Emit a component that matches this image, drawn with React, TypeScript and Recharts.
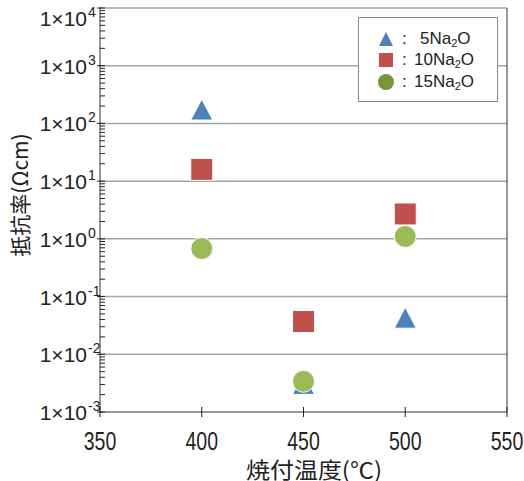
import React from 'react';
import { ScatterChart, Scatter, XAxis, YAxis, ReferenceLine } from 'recharts';

// firing temperature (°C) and resistivity (Ω·cm) per Na2O content
const temps = [400, 450, 500];
const na5 = [170, 0.003, 0.042];
const na10 = [16, 0.037, 2.7];
const na15 = [0.68, 0.0034, 1.1];

const xTicks = [350, 400, 450, 500, 550];
const decades = [-3, -2, -1, 0, 1, 2, 3, 4];

const FONT = '"Liberation Sans", Arial, sans-serif';
const CJK = '"Noto Sans CJK JP", "Noto Sans CJK SC", sans-serif';

const BLUE = '#4f81bd';
const RED = '#c0504d';
const GREEN = '#9bbb59';

const X_DOMAIN = [350, 550];
const Y_DOMAIN = [0.001, 10000];

const toPoints = (vals: number[]) => temps.map((t, i) => ({ x: t, y: vals[i] }));

const majorTicks = decades.map((d) => Math.pow(10, d));
// decades plus the 2..9 minor ticks between them
const allYTicks: number[] = [];
decades.forEach((d, i) => {
    allYTicks.push(Math.pow(10, d));
    if (i < decades.length - 1) {
        for (let m = 2; m <= 9; m++) allYTicks.push(m * Math.pow(10, d));
    }
});

const isDecade = (v: number) => {
    const e = Math.log10(v);
    return Math.abs(e - Math.round(e)) < 1e-6;
};

const Triangle = (props: any) => {
    const { cx, cy } = props;
    const s = 11;
    return <path d={`M${cx},${cy - s} L${cx + s},${cy + s * 0.9} L${cx - s},${cy + s * 0.9} Z`} fill={BLUE} stroke="#fff" strokeWidth={1} />;
};
const Square = (props: any) => {
    const { cx, cy } = props;
    const s = 11;
    return <rect x={cx - s} y={cy - s} width={s * 2} height={s * 2} fill={RED} stroke="#fff" strokeWidth={1} />;
};
const Circle = (props: any) => {
    const { cx, cy } = props;
    return <circle cx={cx} cy={cy} r={11} fill={GREEN} stroke="#fff" strokeWidth={1} />;
};

// tick lines point inward (negative tickSize), so x here sits 5px right of the axis
const renderYTick = (props: any) => {
    const { x, payload } = props;
    if (!isDecade(payload.value)) return <g />;
    const exp = Math.round(Math.log10(payload.value));
    const ax = x - 5;
    // keep the top label inside the frame
    const y = Math.max(props.y, 18);
    return (
        <g>
            <line x1={ax - 3} x2={ax + 1} y1={props.y} y2={props.y} stroke="#222" />
            <text x={ax - 13} y={y + 8} textAnchor="end" fontFamily={FONT} fontSize={21} fill="#222">
                1×10
            </text>
            <text x={ax - 12} y={y - 1} textAnchor="start" fontFamily={FONT} fontSize={14} fill="#222">
                {exp}
            </text>
        </g>
    );
};

const renderXTick = (props: any) => {
    const { x, y, payload } = props;
    return (
        <g>
            <line x1={x} x2={x} y1={y - 10} y2={y - 5} stroke="#222" />
            <text transform={`translate(${x},${y + 33}) scale(0.78,1)`} textAnchor="middle" fontFamily={FONT} fontSize={25} fill="#222">
                {payload.value}
            </text>
        </g>
    );
};

const legendItems = [
    { label: '5', marker: <polygon points="1,15 8,1 15,15" fill={BLUE} /> },
    { label: '10', marker: <rect x={1} y={1} width={14} height={14} fill={RED} /> },
    { label: '15', marker: <circle cx={8} cy={8} r={8} fill="#77933c" /> },
];

const LegendBox = () => (
    <div
        style={{
            position: 'absolute',
            left: 358,
            top: 17,
            width: 140,
            height: 85,
            border: '1px solid #888',
            background: '#fff',
            boxSizing: 'border-box',
            padding: '10px 0 0 19px',
            fontFamily: FONT,
            fontSize: 17,
            color: '#222',
        }}
    >
        {legendItems.map((it) => (
            <div key={it.label} style={{ display: 'flex', alignItems: 'center', height: 21.5 }}>
                <svg width={16} height={16} style={{ marginRight: 8 }}>{it.marker}</svg>
                <span style={{ width: 12 }}>:</span>
                <span style={{ marginLeft: it.label.length === 1 ? 6 : 0 }}>
                    {it.label}Na<sub style={{ fontSize: 11, verticalAlign: -3 }}>2</sub>O
                </span>
            </div>
        ))}
    </div>
);

export default function App() {
    return (
        <div style={{ position: 'absolute', left: 0, top: 0, width: 524, height: 481, background: '#fff' }}>
            <ScatterChart width={524} height={481} margin={{ top: 8, right: 17, left: 0, bottom: 0 }}>
                <XAxis
                    type="number"
                    dataKey="x"
                    domain={X_DOMAIN}
                    ticks={xTicks}
                    interval={0}
                    height={69}
                    tick={renderXTick}
                    tickLine={{ stroke: '#222' }}
                    tickSize={5}
                    tickMargin={0}
                    axisLine={{ stroke: '#333' }}
                />
                <YAxis
                    type="number"
                    dataKey="y"
                    scale="log"
                    domain={Y_DOMAIN}
                    ticks={allYTicks}
                    interval={0}
                    width={100}
                    tick={renderYTick}
                    tickLine={{ stroke: '#222' }}
                    tickSize={-5}
                    tickMargin={0}
                    axisLine={{ stroke: '#333' }}
                    allowDataOverflow
                />
                {majorTicks.slice(1).map((v) => (
                    <ReferenceLine key={`g${v}`} y={v} stroke="#a6a6a6" strokeWidth={1.5} />
                ))}
                <ReferenceLine x={X_DOMAIN[1]} stroke="#333" />
                <Scatter name="5Na2O" data={toPoints(na5)} shape={<Triangle />} isAnimationActive={false} />
                <Scatter name="10Na2O" data={toPoints(na10)} shape={<Square />} isAnimationActive={false} />
                <Scatter name="15Na2O" data={toPoints(na15)} shape={<Circle />} isAnimationActive={false} />
            </ScatterChart>
            <LegendBox />
            <div
                style={{
                    position: 'absolute',
                    left: 164,
                    width: 300,
                    top: 458,
                    textAlign: 'center',
                    fontFamily: CJK,
                    fontSize: 22,
                    color: '#222',
                    lineHeight: '20px',
                    transform: 'scaleX(1.09)',
                }}
            >
                焼付温度(℃)
            </div>
            <div
                style={{
                    position: 'absolute',
                    left: 19,
                    top: 195,
                    transform: 'translate(-50%, -50%) rotate(-90deg)',
                    whiteSpace: 'nowrap',
                    fontFamily: CJK,
                    fontSize: 21,
                    color: '#222',
                    lineHeight: '24px',
                }}
            >
                抵抗率(Ωcm)
            </div>
        </div>
    );
}
